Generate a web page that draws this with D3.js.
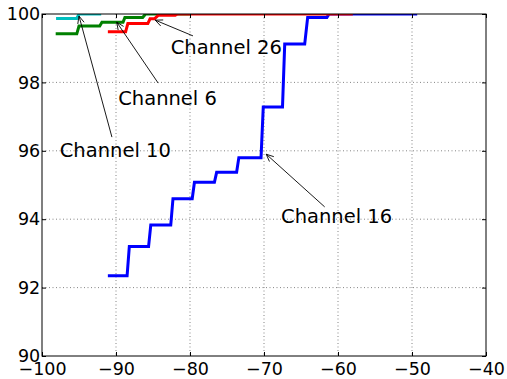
<!DOCTYPE html>
<html>
<head>
<meta charset="utf-8">
<script src="https://cdn.jsdelivr.net/npm/d3@7"></script>
<style>
  body { margin: 0; background: #fff; }
  svg { display: block; }
  text { font-family: "DejaVu Sans", sans-serif; }
</style>
</head>
<body>
<script>
// Data (step curves, two points per step)
const ch16X = [-91.1, -88.5, -88.2, -85.6, -85.3, -82.6, -82.3, -79.7, -79.4, -76.7, -76.4, -73.7, -73.4, -70.4, -70.1, -67.5, -67.2, -64.5, -64.1, -61.5, -61.2, -49.3];
const ch16Y = [92.35, 92.35, 93.2, 93.2, 93.83, 93.83, 94.6, 94.6, 95.08, 95.08, 95.37, 95.37, 95.8, 95.8, 97.28, 97.28, 99.12, 99.12, 99.9, 99.9, 100, 100];

const ch6X = [-98.15, -95.3, -95.0, -92.2, -91.9, -89.05, -88.8, -86.4, -86.0, -80];
const ch6Y = [99.42, 99.42, 99.65, 99.65, 99.76, 99.76, 99.9, 99.9, 100, 100];

const ch26X = [-91.1, -88.7, -88.4, -85.7, -85.4, -84.8, -84.3, -82, -81.7, -58];
const ch26Y = [99.48, 99.48, 99.72, 99.72, 99.86, 99.86, 99.96, 99.96, 100, 100];

const ch10X = [-98.1, -95.3, -95.0, -92];
const ch10Y = [99.87, 99.87, 100, 100];

const xTicks = [-100, -90, -80, -70, -60, -50, -40];
const yTicks = [90, 92, 94, 96, 98, 100];

// Annotations: label, text position (left, baseline), arrow tail and head
const notes = [
  { label: "Channel 10", tx: -97.6, ty: 95.82, fx: -90.55, fy: 96.4, hx: -95.0, hy: 99.94 },
  { label: "Channel 6", tx: -89.7, ty: 97.34, fx: -84.3, fy: 97.98, hx: -89.9, hy: 99.76 },
  { label: "Channel 26", tx: -82.6, ty: 98.83, fx: -79.6, fy: 99.36, hx: -84.7, hy: 99.82 },
  { label: "Channel 16", tx: -67.7, ty: 93.89, fx: -61.8, fy: 94.36, hx: -69.7, hy: 95.9 }
];

const width = 507, height = 379;
const margin = { top: 14, right: 21, bottom: 23, left: 42 };

const svg = d3.select("body").append("svg")
  .attr("width", width)
  .attr("height", height);

const x = d3.scaleLinear().domain([-100, -40]).range([margin.left, width - margin.right]);
const y = d3.scaleLinear().domain([90, 100]).range([height - margin.bottom, margin.top]);

const plotW = x.range()[1] - x.range()[0];
const plotH = y.range()[0] - y.range()[1];

svg.append("clipPath").attr("id", "clip")
  .append("rect")
  .attr("x", margin.left).attr("y", margin.top)
  .attr("width", plotW).attr("height", plotH);

// grid
const grid = svg.append("g").attr("class", "grid")
  .attr("stroke", "#666").attr("stroke-width", 0.8).attr("stroke-dasharray", "1,2.5");
grid.selectAll(".gx").data(xTicks.slice(1, -1)).join("line")
  .attr("x1", d => x(d)).attr("x2", d => x(d))
  .attr("y1", margin.top).attr("y2", y.range()[0]);
grid.selectAll(".gy").data(yTicks.slice(1, -1)).join("line")
  .attr("class", "gy")
  .attr("y1", d => y(d)).attr("y2", d => y(d))
  .attr("x1", margin.left).attr("x2", x.range()[1]);

// lines
const line = d3.line().x(d => x(d[0])).y(d => y(d[1]));
const series = [
  { xs: ch16X, ys: ch16Y, color: "#0000ff" },
  { xs: ch6X, ys: ch6Y, color: "#008000" },
  { xs: ch26X, ys: ch26Y, color: "#ff0000" },
  { xs: ch10X, ys: ch10Y, color: "#00bfbf" }
];
svg.append("g").attr("clip-path", "url(#clip)")
  .selectAll("path").data(series).join("path")
  .attr("d", s => line(d3.zip(s.xs, s.ys)))
  .attr("fill", "none")
  .attr("stroke", s => s.color)
  .attr("stroke-width", 3)
  .attr("stroke-linejoin", "miter");

// axes
const fontSize = 17.5;
const xAxis = svg.append("g")
  .attr("transform", `translate(0,${y.range()[0]})`)
  .call(d3.axisBottom(x).tickValues(xTicks).tickSizeInner(-4).tickSizeOuter(0).tickPadding(6.6));
const yAxis = svg.append("g")
  .attr("transform", `translate(${margin.left},0)`)
  .call(d3.axisLeft(y).tickValues(yTicks).tickSizeInner(-4).tickSizeOuter(0).tickPadding(1.8));
svg.append("g")
  .attr("transform", `translate(0,${margin.top})`)
  .call(d3.axisTop(x).tickValues(xTicks).tickSizeInner(-4).tickSizeOuter(0).tickFormat(""));
svg.append("g")
  .attr("transform", `translate(${x.range()[1]},0)`)
  .call(d3.axisRight(y).tickValues(yTicks).tickSizeInner(-4).tickSizeOuter(0).tickFormat(""));

svg.selectAll(".domain").remove();
svg.selectAll(".tick line").attr("stroke", "#000");
svg.selectAll(".tick text").attr("font-size", fontSize).attr("fill", "#000")
  .style("font-family", "DejaVu Sans");

// frame
svg.append("rect")
  .attr("x", margin.left).attr("y", margin.top)
  .attr("width", plotW).attr("height", plotH)
  .attr("fill", "none").attr("stroke", "#000").attr("stroke-width", 1);

// annotations
const ann = svg.append("g");
notes.forEach(n => {
  const x1 = x(n.fx), y1 = y(n.fy), x2 = x(n.hx), y2 = y(n.hy);
  const ang = Math.atan2(y2 - y1, x2 - x1);
  const hl = 8, hw = 0.42;
  ann.append("line")
    .attr("x1", x1).attr("y1", y1).attr("x2", x2).attr("y2", y2)
    .attr("stroke", "#000").attr("stroke-width", 0.9);
  ann.append("path")
    .attr("d", `M${x2 - hl * Math.cos(ang - hw)},${y2 - hl * Math.sin(ang - hw)}L${x2},${y2}L${x2 - hl * Math.cos(ang + hw)},${y2 - hl * Math.sin(ang + hw)}`)
    .attr("fill", "none").attr("stroke", "#000").attr("stroke-width", 0.9);
  ann.append("text")
    .attr("x", x(n.tx)).attr("y", y(n.ty))
    .attr("font-size", 19.5)
    .text(n.label);
});
</script>
</body>
</html>
